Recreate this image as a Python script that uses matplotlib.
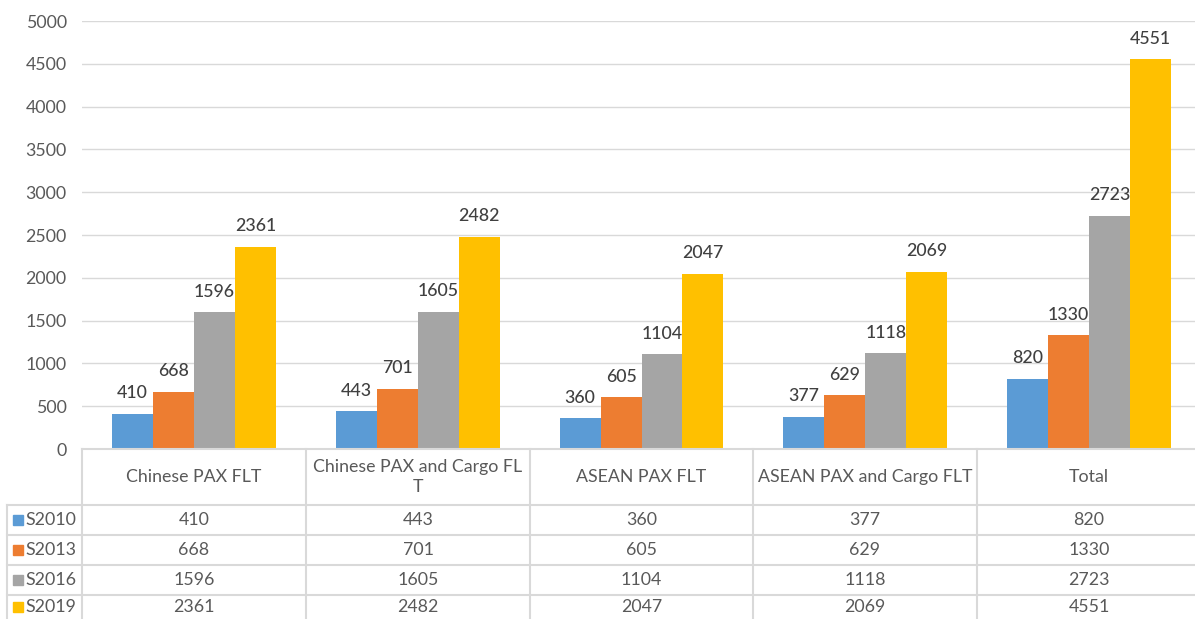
import matplotlib
matplotlib.use("Agg")
import matplotlib.pyplot as plt
import numpy as np

categories = ["Chinese PAX FLT", "Chinese PAX and Cargo FLT", "ASEAN PAX FLT",
              "ASEAN PAX and Cargo FLT", "Total"]
header_labels = ["Chinese PAX FLT", "Chinese PAX and Cargo FL\nT", "ASEAN PAX FLT",
                 "ASEAN PAX and Cargo FLT", "Total"]
series_names = ["S2010", "S2013", "S2016", "S2019"]
s2010 = [410, 443, 360, 377, 820]
s2013 = [668, 701, 605, 629, 1330]
s2016 = [1596, 1605, 1104, 1118, 2723]
s2019 = [2361, 2482, 2047, 2069, 4551]
series = [s2010, s2013, s2016, s2019]
colors = ["#5B9BD5", "#ED7D31", "#A5A5A5", "#FFC000"]
yticks = [0, 500, 1000, 1500, 2000, 2500, 3000, 3500, 4000, 4500, 5000]

plt.rcParams['font.family'] = ['Lato', 'DejaVu Sans']
FS = 12.8
W, H = 1195, 619
fig = plt.figure(figsize=(W / 100, H / 100), dpi=100)

def fx(px):
    return px / W

def fy(py):
    return 1 - py / H

left_px, right_px = 82, 1201
top_px, bot_px = 21, 449
ax = fig.add_axes([fx(left_px), fy(bot_px), fx(right_px - left_px), (bot_px - top_px) / H])
ax.set_xlim(-0.5, len(categories) - 0.5)
ax.set_ylim(0, 5000)
ax.set_yticks(yticks)
ax.set_xticks([])
ax.tick_params(axis='y', length=0, pad=11, labelsize=FS, labelcolor="#595959")
for s in ax.spines.values():
    s.set_visible(False)
ax.grid(axis='y', color="#D9D9D9", linewidth=1)
ax.set_axisbelow(True)

x = np.arange(len(categories))
bw = 0.183
for i, (vals, c) in enumerate(zip(series, colors)):
    pos = x + (i - 1.5) * bw
    bars = ax.bar(pos, vals, width=bw, color=c, zorder=3)
    for b, v in zip(bars, vals):
        ax.annotate(str(v), (b.get_x() + b.get_width() / 2, v), xytext=(0, 9),
                    textcoords='offset points', ha='center', va='bottom',
                    fontsize=FS, color="#404040", fontweight='medium')

# Data table
lc = "#D9D9D9"
col_edges = [82, 306, 530, 753, 977, 1201]
row_edges = [449, 505, 535, 565, 595, 625]
tab_left = 7

def hline(py, x0, x1):
    fig.add_artist(plt.Line2D([fx(x0), fx(x1)], [fy(py), fy(py)], color=lc, linewidth=1.5))

def vline(px, y0, y1):
    fig.add_artist(plt.Line2D([fx(px), fx(px)], [fy(y0), fy(y1)], color=lc, linewidth=1.5))

hline(449, 82, 1201)
for r in row_edges[1:-1]:
    hline(r, tab_left, 1201)
vline(tab_left, 505, 625)
for c in col_edges[:-1]:
    vline(c, 449, 625)

tc = "#595959"
for j, lab in enumerate(header_labels):
    cx = (col_edges[j] + col_edges[j + 1]) / 2
    cy = (row_edges[0] + row_edges[1]) / 2
    fig.text(fx(cx), fy(cy), lab, ha='center', va='center', fontsize=FS, color=tc,
             linespacing=1.25)

for i, (name, vals, c) in enumerate(zip(series_names, series, colors)):
    cy = (row_edges[i + 1] + row_edges[i + 2]) / 2
    if i == 3:
        cy = 607
    fig.add_artist(plt.Rectangle((fx(13), fy(cy + 5)), fx(10), 10 / H, color=c))
    fig.text(fx(25), fy(cy), name, ha='left', va='center', fontsize=FS, color=tc)
    for j, v in enumerate(vals):
        cx = (col_edges[j] + col_edges[j + 1]) / 2
        fig.text(fx(cx), fy(cy), str(v), ha='center', va='center', fontsize=FS, color=tc)

fig.savefig("out.png", dpi=100)
